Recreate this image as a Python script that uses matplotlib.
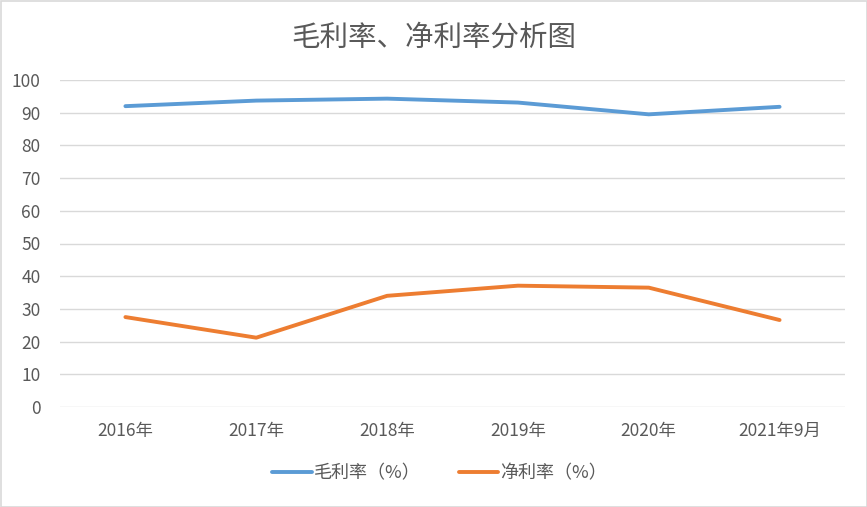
import matplotlib
matplotlib.use('Agg')
import matplotlib.pyplot as plt
from matplotlib.patches import Rectangle

plt.rcParams['font.family'] = ['Noto Sans CJK SC', 'DejaVu Sans']

categories = ["2016年", "2017年", "2018年", "2019年", "2020年", "2021年9月"]
gross_margin = [92.0, 93.7, 94.3, 93.1, 89.5, 91.8]
net_margin = [27.5, 21.2, 34.0, 37.1, 36.5, 26.6]
series_names = ["毛利率（%）", "净利率（%）"]
yticks = [0, 10, 20, 30, 40, 50, 60, 70, 80, 90, 100]

text_color = "#595959"

fig = plt.figure(figsize=(8.67, 5.07), dpi=100)
ax = fig.add_axes([60 / 867, 1 - 407 / 507, 785 / 867, 327 / 507])

x = list(range(len(categories)))
ax.plot(x, gross_margin, color="#5B9BD5", lw=2.8, solid_capstyle="round", label=series_names[0])
ax.plot(x, net_margin, color="#ED7D31", lw=2.8, solid_capstyle="round", label=series_names[1])

ax.set_xlim(-0.5, len(categories) - 0.5)
ax.set_ylim(0, 100)
ax.set_yticks(yticks)
ax.set_xticks(x)
ax.set_xticklabels(categories)
ax.grid(axis="y", color="#d9d9d9", lw=1)
ax.set_axisbelow(True)
for s in ax.spines.values():
    s.set_visible(False)
ax.tick_params(length=0, labelsize=12.5, labelcolor=text_color)
ax.tick_params(axis="x", pad=11)
ax.tick_params(axis="y", pad=14)

fig.text(0.5, 1 - 38 / 507, "毛利率、净利率分析图", ha="center", va="center",
         fontsize=20.5, color=text_color, fontweight="light")

fig.legend(loc="center", bbox_to_anchor=(0.507, 1 - 473 / 507), ncol=2, frameon=False,
           fontsize=13, labelcolor=text_color, handlelength=2.2, handletextpad=0.1,
           columnspacing=2.1)

fig.patches.append(Rectangle((0.5 / 867, 0.5 / 507), 1 - 1 / 867, 1 - 1 / 507,
                             transform=fig.transFigure, fill=False, ec="#d9d9d9", lw=1.2))

fig.savefig("out.png", dpi=100)
